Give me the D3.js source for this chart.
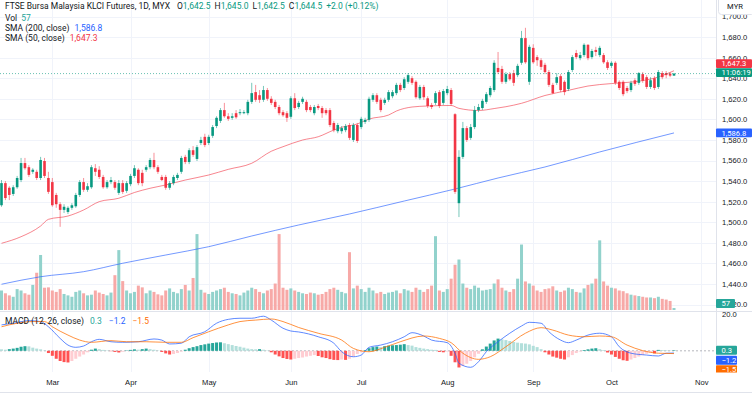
<!DOCTYPE html>
<html>
<head>
<meta charset="utf-8">
<script src="https://cdn.jsdelivr.net/npm/d3@7"></script>
<style>
  body { margin: 0; background: #fff; }
  svg { display: block; font-family: Roboto, "Liberation Sans", sans-serif; }
</style>
</head>
<body>
<svg id="chart" width="752" height="395"></svg>
<script>
// Daily bars, oldest first (last bar = 23 Oct)
var open = [
  1516.5, 1538, 1533.5, 1527.5, 1534, 1541, 1557.5, 1553.5, 1549, 1549,
  1543, 1559.5, 1543, 1539, 1526.5, 1517.5, 1512, 1510, 1514, 1515.5,
  1526.5, 1539, 1531.5, 1534, 1552.5, 1551, 1544, 1534, 1539, 1539,
  1528.5, 1538, 1530.5, 1537, 1545, 1551, 1548, 1551, 1553.5, 1560.5,
  1553.5, 1544, 1544, 1533.5, 1538, 1543, 1549, 1563.5, 1558.5, 1570,
  1561.5, 1577, 1583, 1577, 1584, 1593.5, 1598.5, 1609, 1603, 1601.5,
  1606, 1606, 1606, 1606, 1617, 1626.5, 1623.5, 1619, 1628.5, 1620,
  1617, 1612, 1607, 1606, 1602.5, 1620.5, 1612, 1617, 1617, 1612,
  1606, 1613, 1611, 1609, 1609, 1596.5, 1588.5, 1588.5, 1589.5, 1594.5,
  1580, 1594.5, 1592.5, 1597.5, 1599.5, 1619, 1623.5, 1619, 1616, 1619,
  1622.5, 1625.5, 1633.5, 1630.5, 1636.5, 1640, 1636.5, 1620.5, 1631.5, 1620.5,
  1614, 1616, 1626.5, 1616, 1625.5, 1628.5, 1605, 1518.5, 1563.5, 1591.5,
  1582, 1592.5, 1609, 1611, 1617, 1623.5, 1628.5, 1650, 1649, 1636.5,
  1644, 1645, 1643, 1655, 1679, 1636.5, 1669.5, 1660.5, 1657.5, 1653,
  1646, 1633.5, 1635.5, 1642, 1636.5, 1629.5, 1648, 1664.5, 1659.5, 1662.5,
  1672.5, 1660.5, 1667.5, 1662.5, 1662.5, 1655.5, 1652, 1655, 1636.5, 1636.5,
  1630.5, 1628.5, 1638, 1635.5, 1644, 1641, 1631.5, 1640, 1631.5, 1645,
  1645, 1644.5, 1642.5
];
var high = [
  1541, 1540, 1535, 1536, 1545, 1562.5, 1562.5, 1555.5, 1552.5, 1551,
  1563.5, 1562.5, 1549, 1543, 1528.5, 1519.5, 1517.5, 1515.5, 1518.5, 1528.5,
  1541, 1543, 1538, 1555.5, 1556.5, 1554.5, 1546, 1541, 1544, 1541,
  1541, 1541, 1540, 1547, 1555.5, 1552.5, 1551, 1555.5, 1562.5, 1567.5,
  1555.5, 1546, 1546, 1540, 1546, 1548, 1564.5, 1565.5, 1572, 1574,
  1575, 1583, 1586, 1585, 1594.5, 1603, 1611, 1616, 1606, 1606,
  1609, 1610, 1609, 1619, 1635.5, 1633.5, 1628.5, 1632.5, 1630.5, 1622.5,
  1619, 1614, 1609, 1608, 1622.5, 1625.5, 1618, 1622, 1619, 1614,
  1614, 1615, 1613, 1611, 1611, 1598.5, 1596.5, 1593.5, 1595.5, 1596.5,
  1596.5, 1596.5, 1602.5, 1601.5, 1622, 1625.5, 1625.5, 1621, 1621, 1628.5,
  1628.5, 1635.5, 1635.5, 1641, 1645, 1642, 1638, 1633.5, 1633.5, 1622.5,
  1616, 1627.5, 1628.5, 1629.5, 1632.5, 1630.5, 1606, 1570, 1597.5, 1593.5,
  1595.5, 1613, 1615, 1620, 1626.5, 1632.5, 1657.5, 1665.5, 1652, 1646,
  1646, 1648, 1654, 1686, 1689, 1672.5, 1673, 1662.5, 1659.5, 1655,
  1648, 1635.5, 1645, 1644, 1638, 1648, 1662.5, 1667.5, 1665.5, 1674,
  1673, 1668.5, 1670.5, 1671.5, 1664.5, 1657.5, 1656.5, 1656.5, 1638, 1638,
  1632.5, 1637.5, 1640, 1646, 1646, 1643, 1641, 1642, 1648, 1647,
  1647, 1646, 1645
];
var low = [
  1515, 1521.5, 1521.5, 1525.5, 1532.5, 1539, 1551, 1544, 1547, 1541,
  1541, 1543, 1527.5, 1515, 1514, 1495.5, 1509, 1508, 1512, 1514,
  1524.5, 1529.5, 1529.5, 1532.5, 1545, 1542, 1532.5, 1532.5, 1537, 1531.5,
  1526.5, 1527.5, 1528.5, 1535, 1543, 1536, 1535, 1549, 1551.5, 1551.5,
  1547, 1540, 1531.5, 1531.5, 1536, 1541, 1547, 1556.5, 1556.5, 1563.5,
  1559.5, 1575, 1573, 1575, 1582, 1591.5, 1596.5, 1601.5, 1598.5, 1599.5,
  1600.5, 1604, 1605, 1604, 1615, 1617, 1616, 1617, 1618, 1614,
  1610, 1604, 1602.5, 1597.5, 1600.5, 1609, 1610, 1615, 1607, 1607,
  1604, 1609, 1601.5, 1604, 1592.5, 1587.5, 1586.5, 1586, 1587.5, 1580,
  1578, 1577, 1590.5, 1595.5, 1597.5, 1617, 1615, 1607, 1614, 1617,
  1620.5, 1623.5, 1626.5, 1628.5, 1634.5, 1633.5, 1620, 1619, 1619, 1611,
  1610, 1614, 1611, 1614, 1623.5, 1613, 1527.5, 1505, 1561.5, 1578,
  1580, 1590.5, 1607, 1609, 1615, 1621.5, 1626.5, 1644, 1634.5, 1634.5,
  1637.5, 1632.5, 1641, 1653, 1654, 1633.5, 1654, 1652, 1648, 1644,
  1631.5, 1624.5, 1633.5, 1626.5, 1623.5, 1627.5, 1646, 1658.5, 1657.5, 1660.5,
  1657.5, 1658.5, 1661.5, 1660.5, 1654, 1648, 1650, 1633.5, 1628.5, 1622.5,
  1625.5, 1626.5, 1632.5, 1633.5, 1635.5, 1629.5, 1629.5, 1628.5, 1629.5, 1639,
  1640, 1641, 1642.5
];
var close = [
  1538, 1523.5, 1526.5, 1534, 1543, 1557.5, 1552.5, 1546, 1551, 1543,
  1560.5, 1545, 1529.5, 1516.5, 1517.5, 1512, 1515, 1514, 1516.5, 1526.5,
  1539, 1531.5, 1535, 1553.5, 1549, 1544, 1534, 1539, 1541, 1533.5,
  1538, 1529.5, 1538, 1545, 1552.5, 1538, 1538, 1553.5, 1560.5, 1553.5,
  1549, 1541, 1533.5, 1538, 1544, 1546, 1562.5, 1558.5, 1570, 1565.5,
  1573, 1580, 1575, 1583, 1592.5, 1601.5, 1609, 1603, 1600.5, 1603,
  1602, 1607, 1607, 1617, 1625.5, 1619, 1619, 1628.5, 1620, 1616,
  1612, 1606, 1604, 1601.5, 1620.5, 1611, 1616, 1620, 1609, 1609,
  1612, 1611, 1606, 1606, 1594.5, 1589.5, 1594.5, 1591.5, 1593.5, 1582,
  1594.5, 1579, 1600.5, 1599.5, 1620, 1623.5, 1617, 1609, 1619, 1626.5,
  1626.5, 1633.5, 1628.5, 1639, 1643, 1635.5, 1621.5, 1631.5, 1621.5, 1613,
  1612, 1625.5, 1613, 1627.5, 1629.5, 1615, 1529.5, 1563.5, 1591.5, 1580,
  1592.5, 1609, 1612, 1618, 1624.5, 1630.5, 1655, 1646, 1636.5, 1644,
  1639, 1635.5, 1652, 1679, 1655.5, 1670.5, 1655.5, 1657.5, 1651, 1646,
  1633.5, 1625.5, 1641, 1628.5, 1626.5, 1646, 1660.5, 1660.5, 1662.5, 1672.5,
  1659.5, 1666.5, 1665.5, 1669.5, 1655.5, 1650, 1655, 1635.5, 1630.5, 1624.5,
  1627.5, 1635.5, 1634.5, 1645, 1637.5, 1631.5, 1638, 1630.5, 1646, 1641,
  1643, 1642.5, 1644.5
];
var volume = [
  560, 480, 420, 380, 600, 560, 480, 440, 720, 1070,
  1580, 640, 650, 560, 520, 600, 460, 420, 380, 520,
  560, 480, 420, 440, 560, 500, 460, 420, 500, 1000,
  1720, 830, 560, 480, 520, 700, 650, 480, 560, 520,
  450, 420, 560, 620, 520, 480, 600, 720, 560, 920,
  2180, 580, 500, 460, 520, 560, 600, 640, 520, 480,
  460, 420, 500, 560, 640, 600, 520, 480, 560, 600,
  760, 2180, 640, 580, 620, 560, 520, 480, 460, 500,
  480, 440, 460, 520, 600, 640, 580, 520, 480, 1660,
  620, 700, 600, 520, 640, 560, 480, 520, 460, 500,
  520, 560, 480, 600, 560, 520, 640, 580, 520, 600,
  700, 2120, 560, 520, 600, 900, 1300, 1450, 760, 640,
  600, 700, 640, 560, 580, 600, 760, 880, 640, 560,
  520, 600, 900, 1880, 820, 760, 700, 560, 520, 600,
  620, 680, 560, 520, 560, 640, 600, 520, 500, 620,
  720, 760, 900, 2000, 820, 700, 640, 620, 560, 540,
  480, 440, 420, 400, 380, 360, 360, 340, 380, 320,
  300, 260, 57
];

// moving averages, read at a few bars
var sma50Bar = [0, 5, 10, 12, 17, 21, 25, 30, 34, 38, 42, 47, 53, 58, 64, 69, 72, 77, 81, 85,
  87, 91, 94, 99, 101, 105, 109, 115, 117, 122, 126, 129, 133, 139, 145, 150, 156, 162, 168, 172];
var sma50 = [1479.5, 1485.9, 1496.3, 1502.8, 1506.0, 1511.9, 1520.0, 1523.3, 1528.9, 1533.0,
  1536.2, 1541.0, 1545.9, 1551.4, 1557.3, 1569.0, 1573.4, 1579.9, 1583.1, 1589.6,
  1592.3, 1595.5, 1600.3, 1604.2, 1608.1, 1612.0, 1613.0, 1613.5, 1610.7, 1608.6,
  1610.5, 1612.3, 1615.6, 1623.2, 1628.2, 1632.4, 1634.8, 1636.6, 1641.2, 1647.3];
var sma200Bar = [0, 10, 21, 31, 42, 53, 64, 76, 89, 103, 116, 127, 139, 153, 172];
var sma200 = [1439.7, 1447.0, 1451.9, 1460.1, 1468.1, 1476.2, 1486.6, 1497.3, 1508.0, 1520.6,
  1532.3, 1543.0, 1553.7, 1568.3, 1586.8];

// MACD (12, 26, close)
var macdBar = [0, 3, 7, 10, 12, 15, 17, 19, 21, 23, 25, 28, 31, 35, 39, 41, 43, 46, 48, 52,
  55, 58, 61, 64, 67, 69, 72, 74, 76, 81, 85, 87, 90, 92, 94, 97, 100, 103, 105, 108,
  110, 114, 116, 117, 120, 122, 124, 127, 130, 133, 135, 138, 140, 143, 145, 147, 150, 153, 156, 158,
  161, 165, 168, 170, 172];
var macd = [14.0, 14.9, 16.3, 15.8, 13.0, 6.7, 3.1, 1.9, 2.6, 4.9, 6.2, 4.9, 4.6, 4.9, 6.4, 5.8, 3.7, 4.1, 7.6, 10.3,
  14.9, 17.0, 17.6, 17.6, 18.7, 16.6, 12.2, 10.7, 10.2, 7.6, 4.1, -0.5, -3.2, -2.3, 1.9, 3.1, 4.9, 7.6, 9.8, 8.0,
  5.8, 4.4, -1.3, -6.7, -8.9, -5.9, -0.5, 4.9, 9.5, 13.4, 15.4, 14.9, 10.3, 5.8, 4.4, 5.8, 8.5, 9.5, 7.6, 2.2,
  -1.3, -2.3, -2.8, -1.3, -1.2];
var signalBar = [0, 4, 8, 11, 13, 17, 20, 23, 28, 32, 37, 42, 46, 49, 53, 58, 61, 65, 69, 72,
  76, 81, 87, 90, 94, 98, 102, 108, 112, 115, 118, 122, 125, 129, 134, 138, 141, 145, 149, 153,
  156, 160, 164, 168, 172];
var signal = [13.0, 14.9, 15.8, 15.8, 13.0, 8.5, 5.8, 4.6, 5.5, 4.9, 4.9, 4.6, 4.6, 7.1, 10.3, 14.0, 15.8, 16.6, 17.2, 15.8,
  12.6, 9.5, 5.8, 1.3, -0.5, 1.9, 4.9, 8.0, 6.7, 4.4, -1.3, -4.6, -3.2, 2.2, 9.5, 12.5, 11.2, 8.5, 7.6, 8.0,
  7.6, 3.1, 0.1, -1.3, -1.5];
var hist = [
  0.8, 0.6, 0.9, 1.2, 1.6, 2.2, 2.5, 2.4, 1.7, 1.2,
  0.8, 0.2, -1.2, -2.7, -4.3, -5.5, -6.1, -6.3, -5.5, -4.3,
  -3.1, -2.0, -0.8, 0.6, 1.2, 0.9, 0.5, 0.2, -0.2, -0.6,
  -0.9, -0.5, 0.2, 0.5, 0.8, 0.6, 0.9, 1.2, 0.9, 0.6,
  0.2, -0.6, -1.4, -2.0, -1.7, -1.2, -0.4, 0.6, 1.4, 2.0,
  2.5, 3.1, 3.5, 3.9, 4.2, 4.5, 4.6, 4.1, 3.6, 3.1,
  2.6, 2.2, 1.7, 1.2, 0.9, 0.8, 0.9, 0.6, 0.2, -0.8,
  -2.0, -3.0, -3.9, -4.4, -4.7, -4.3, -3.9, -3.6, -3.1, -2.7,
  -2.3, -2.8, -3.5, -3.9, -4.5, -4.9, -5.0, -4.7, -4.9, -4.3,
  -3.1, -1.7, -0.8, 0.4, 1.4, 2.0, 2.3, 2.0, 2.5, 2.8,
  3.0, 3.1, 3.3, 3.6, 3.1, 2.8, 2.0, 1.6, 1.2, 0.9,
  0.6, 0.5, -0.6, -0.8, -0.4, -2.7, -6.2, -9.0, -8.2, -7.0,
  -5.5, -3.5, -1.6, 0.8, 2.3, 3.9, 5.6, 6.6, 6.2, 5.8,
  5.3, 4.8, 4.4, 4.1, 3.9, 3.5, 2.7, 2.0, 0.9, -0.8,
  -2.0, -3.1, -3.7, -4.3, -4.7, -3.5, -2.3, -1.2, -0.4, 0.4,
  0.8, 1.2, 1.4, 0.9, 0.4, -0.9, -2.0, -3.3, -4.3, -5.1,
  -5.4, -4.7, -3.9, -3.1, -2.3, -1.6, -0.9, -1.4, 0.5, 0.4,
  0.3, 0.2, 0.3
];

// axis labels
var months = ["Mar", "Apr", "May", "Jun", "Jul", "Aug", "Sep", "Oct", "Nov"];
var monthBar = [13, 33, 53, 74, 92, 114, 136, 156, 179];
var priceTicks = [1420, 1440, 1460, 1480, 1500, 1520, 1540, 1560, 1580, 1600, 1620, 1640, 1660, 1680, 1700];
var macdTicks = [20];

var title = "FTSE Bursa Malaysia KLCI Futures, 1D, MYX";
var countdown = "11:06:19";

// layout
var width = 752, height = 395;
var plotRight = 716, mainBottom = 311, macdBottom = 372;
var upColor = "#089981", downColor = "#f23645";
var textColor = "#131722", gridColor = "#f0f3fa", lineColor = "#e0e3eb";

var svg = d3.select("#chart");
var last = close.length - 1;
var fmt = d3.format(",.1f");
var fmt1 = d3.format(".1f");

var x = d3.scaleLinear().domain([0, last]).range([1.5, 674]);
var y = d3.scaleLinear().domain([1420, 1700]).range([304.5, 16.5]);
var yVol = d3.scaleLinear().domain([0, 2240]).range([310, 232]);
var yMacd = d3.scaleLinear().domain([-11.5, 20]).range([372.1, 313.8]);

var defs = svg.append("defs");
defs.append("clipPath").attr("id", "clipMain").append("rect")
    .attr("x", 0).attr("y", 0).attr("width", plotRight).attr("height", mainBottom);
defs.append("clipPath").attr("id", "clipMacd").append("rect")
    .attr("x", 0).attr("y", mainBottom).attr("width", plotRight).attr("height", macdBottom - mainBottom);
defs.append("clipPath").attr("id", "clipMacdAxis").append("rect")
    .attr("x", plotRight).attr("y", mainBottom + 0.5).attr("width", width - plotRight).attr("height", macdBottom - mainBottom);

// Grid
var grid = svg.append("g");
grid.selectAll(".hgrid").data(priceTicks).enter().append("line")
    .attr("x1", 0).attr("x2", plotRight)
    .attr("y1", d => Math.round(y(d)) + 0.5).attr("y2", d => Math.round(y(d)) + 0.5)
    .attr("stroke", gridColor);
grid.selectAll(".vgrid").data(monthBar).enter().append("line")
    .attr("x1", d => Math.round(x(d)) + 0.5).attr("x2", d => Math.round(x(d)) + 0.5)
    .attr("y1", 0).attr("y2", macdBottom)
    .attr("stroke", gridColor);

// Volume
var main = svg.append("g").attr("clip-path", "url(#clipMain)");
main.append("g").selectAll("rect").data(volume).enter().append("rect")
    .attr("x", (d, i) => x(i) - 1.5).attr("width", 3)
    .attr("y", d => yVol(d)).attr("height", d => yVol(0) - yVol(d))
    .attr("fill", (d, i) => close[i] >= open[i] ? "#92d2cc" : "#f7a9a7");

// Moving averages
var smaLine = d3.line().x(d => x(d[0])).y(d => y(d[1])).curve(d3.curveMonotoneX);
main.append("path").datum(d3.zip(sma200Bar, sma200))
    .attr("d", smaLine).attr("fill", "none").attr("stroke", "#2962ff").attr("stroke-opacity", 0.65).attr("stroke-width", 1);
main.append("path").datum(d3.zip(sma50Bar, sma50))
    .attr("d", smaLine).attr("fill", "none").attr("stroke", "#f23645").attr("stroke-opacity", 0.6).attr("stroke-width", 1);

// Candles
var candles = main.append("g").selectAll("g").data(close).enter().append("g");
candles.append("line")
    .attr("x1", (d, i) => x(i)).attr("x2", (d, i) => x(i))
    .attr("y1", (d, i) => y(high[i])).attr("y2", (d, i) => y(low[i]))
    .attr("stroke", (d, i) => close[i] >= open[i] ? upColor : downColor)
    .attr("stroke-opacity", 0.55).attr("stroke-width", 1);
candles.append("rect")
    .attr("x", (d, i) => x(i) - 1.3).attr("width", 2.6)
    .attr("y", (d, i) => y(Math.max(open[i], close[i])))
    .attr("height", (d, i) => Math.max(0.8, Math.abs(y(open[i]) - y(close[i]))))
    .attr("fill", (d, i) => close[i] >= open[i] ? upColor : downColor);

// last price line
main.append("line")
    .attr("x1", 0).attr("x2", plotRight)
    .attr("y1", y(close[last])).attr("y2", y(close[last]))
    .attr("stroke", upColor).attr("stroke-opacity", 0.6).attr("stroke-dasharray", "1,2");

// MACD pane
var macdPane = svg.append("g").attr("clip-path", "url(#clipMacd)");
macdPane.append("line")
    .attr("x1", 0).attr("x2", plotRight)
    .attr("y1", yMacd(0)).attr("y2", yMacd(0))
    .attr("stroke", "#9598a1").attr("stroke-opacity", 0.7).attr("stroke-dasharray", "2,2");
macdPane.append("g").selectAll("rect").data(hist).enter().append("rect")
    .attr("x", (d, i) => x(i) - 1.5).attr("width", 3)
    .attr("y", d => Math.min(yMacd(d), yMacd(0)))
    .attr("height", d => Math.abs(yMacd(d) - yMacd(0)))
    .attr("fill", function (d, i) {
        var prev = i > 0 ? hist[i - 1] : d;
        if (d >= 0) { return d > prev ? "#26a69a" : "#b2dfdb"; }
        return d < prev ? "#ff5252" : "#ffcdd2";
    });
var macdLine = d3.line().x(d => x(d[0])).y(d => yMacd(d[1])).curve(d3.curveMonotoneX);
macdPane.append("path").datum(d3.zip(macdBar, macd))
    .attr("d", macdLine).attr("fill", "none").attr("stroke", "#2962ff").attr("stroke-opacity", 0.75).attr("stroke-width", 1);
macdPane.append("path").datum(d3.zip(signalBar, signal))
    .attr("d", macdLine).attr("fill", "none").attr("stroke", "#ff6d00").attr("stroke-opacity", 0.75).attr("stroke-width", 1);

// separators
svg.append("line").attr("x1", 0).attr("x2", width).attr("y1", mainBottom + 0.5).attr("y2", mainBottom + 0.5)
    .attr("stroke", lineColor);
svg.append("line").attr("x1", plotRight + 0.5).attr("x2", plotRight + 0.5).attr("y1", 0).attr("y2", macdBottom)
    .attr("stroke", lineColor);
svg.append("line").attr("x1", 0).attr("x2", width).attr("y1", height - 2.5).attr("y2", height - 2.5)
    .attr("stroke", lineColor);

// Price axis
var yAxis = svg.append("g").attr("transform", "translate(" + plotRight + ",0)")
    .call(d3.axisRight(y).tickValues(priceTicks).tickSize(0).tickPadding(6).tickFormat(fmt));
yAxis.select(".domain").remove();
yAxis.selectAll("text").attr("fill", textColor).attr("font-size", 7.6).attr("font-family", null);

var macdAxis = svg.append("g").attr("clip-path", "url(#clipMacdAxis)")
    .append("g").attr("transform", "translate(" + plotRight + ",0)")
    .call(d3.axisRight(yMacd).tickValues(macdTicks).tickSize(0).tickPadding(6).tickFormat(fmt1));
macdAxis.select(".domain").remove();
macdAxis.selectAll("text").attr("fill", textColor).attr("font-size", 7.6).attr("font-family", null);

// Time axis
var xAxis = svg.append("g").attr("transform", "translate(0," + macdBottom + ")")
    .call(d3.axisBottom(x).tickValues(monthBar).tickSize(0).tickPadding(8).tickFormat((d, i) => months[i]));
xAxis.select(".domain").remove();
xAxis.selectAll("text").attr("fill", textColor).attr("font-size", 7.6).attr("font-family", null);

// currency box
svg.append("rect").attr("x", 718.5).attr("y", -3).attr("width", 36).attr("height", 17.5).attr("rx", 3)
    .attr("fill", "#fff").attr("stroke", lineColor);
svg.append("text").attr("x", 735).attr("y", 8.5).attr("text-anchor", "middle")
    .attr("font-size", 7.6).attr("fill", textColor).text("MYR");

// value tags on the right scale
function tag(g, yc, label, fill, w) {
    g.append("rect").attr("x", plotRight).attr("y", yc - 4.4).attr("width", w).attr("height", 8.8)
        .attr("rx", 1).attr("fill", fill);
    g.append("text").attr("x", plotRight + 5.5).attr("y", yc).attr("dy", "0.35em")
        .attr("font-size", 7.6).attr("fill", "#fff").text(label);
}
var tags = svg.append("g");
var yLast = y(close[last]);
tag(tags, yLast - 1, countdown, upColor, 36);
tag(tags, Math.min(y(sma50[sma50.length - 1]), yLast - 10), fmt(sma50[sma50.length - 1]), downColor, 36);
tag(tags, y(sma200[sma200.length - 1]), fmt(sma200[sma200.length - 1]), "#2962ff", 36);
tag(tags, Math.min(yVol(volume[last]), mainBottom - 7.5), volume[last], "#26a69a", 19);

var macdTags = svg.append("g").attr("clip-path", "url(#clipMacdAxis)");
var yh = yMacd(hist[last]);
var ym = Math.max(yMacd(macd[macd.length - 1]), yh + 10);
var ys = Math.max(yMacd(signal[signal.length - 1]), ym + 9.5);
tag(macdTags, yh, fmt1(hist[last]), "#26a69a", 21);
tag(macdTags, ym, fmt1(macd[macd.length - 1]), "#2962ff", 21);
tag(macdTags, ys, fmt1(signal[signal.length - 1]), "#ff6d00", 21);

// Legends
var legend = svg.append("g").attr("font-size", 8.5).attr("fill", textColor);
var chg = close[last] - close[last - 1];
var t1 = legend.append("text").attr("x", 5).attr("y", 9.3);
t1.append("tspan").text(title);
[["O", open[last]], ["H", high[last]], ["L", low[last]], ["C", close[last]]].forEach(function (p, k) {
    t1.append("tspan").attr("dx", k === 0 ? 7 : 4).text(p[0]);
    t1.append("tspan").attr("fill", upColor).text(fmt(p[1]));
});
t1.append("tspan").attr("dx", 4).attr("fill", upColor)
    .text("+" + fmt1(chg) + " (+" + d3.format(".2f")(chg / close[last - 1] * 100) + "%)");

var t2 = legend.append("text").attr("x", 5).attr("y", 21.3);
t2.append("tspan").text("Vol");
t2.append("tspan").attr("dx", 4).attr("fill", "#26a69a").text(volume[last]);

var t3 = legend.append("text").attr("x", 5).attr("y", 31.3);
t3.append("tspan").text("SMA (200, close)");
t3.append("tspan").attr("dx", 5).attr("fill", "#2962ff").text(fmt(sma200[sma200.length - 1]));

var t4 = legend.append("text").attr("x", 5).attr("y", 41.3);
t4.append("tspan").text("SMA (50, close)");
t4.append("tspan").attr("dx", 5).attr("fill", downColor).text(fmt(sma50[sma50.length - 1]));

var t5 = legend.append("text").attr("x", 5).attr("y", 323.8);
t5.append("tspan").text("MACD (12, 26, close)");
t5.append("tspan").attr("dx", 6).attr("fill", "#26a69a").text(fmt1(hist[last]));
t5.append("tspan").attr("dx", 7).attr("fill", "#2962ff").text(fmt1(macd[macd.length - 1]));
t5.append("tspan").attr("dx", 7).attr("fill", "#ff6d00").text(fmt1(signal[signal.length - 1]));
</script>
</body>
</html>
